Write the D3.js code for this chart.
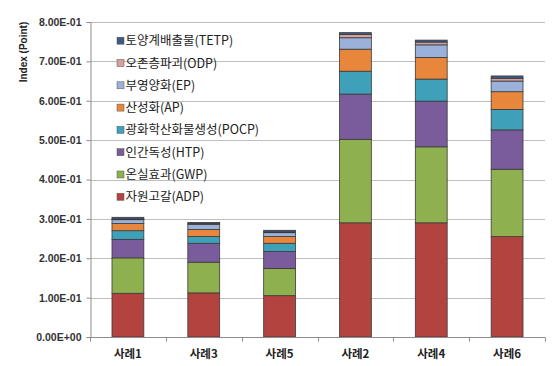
<!DOCTYPE html>
<html><head><meta charset="utf-8">
<script src="https://cdn.jsdelivr.net/npm/d3@7"></script>
<style>body{margin:0;background:#fff;}svg{display:block;font-family:"Noto Sans CJK KR","Noto Sans",sans-serif;}</style>
</head><body><svg id="c" width="556" height="366"></svg>
<script>
const categories = ["사례1","사례3","사례5","사례2","사례4","사례6"];
const seriesNames = ["자원고갈(ADP)","온실효과(GWP)","인간독성(HTP)","광화학산화물생성(POCP)","산성화(AP)","부영양화(EP)","오존층파괴(ODP)","토양계배출물(TETP)"];
const seriesKeys = ["ADP","GWP","HTP","POCP","AP","EP","ODP","TETP"];
const ADP  = [0.111,0.112,0.105,0.290,0.290,0.255];
const GWP  = [0.090,0.078,0.069,0.212,0.193,0.171];
const HTP  = [0.047,0.048,0.043,0.115,0.116,0.100];
const POCP = [0.022,0.017,0.021,0.058,0.056,0.052];
const AP   = [0.018,0.018,0.017,0.056,0.055,0.045];
const EP   = [0.010,0.013,0.010,0.029,0.032,0.027];
const ODP  = [0.002,0.002,0.002,0.008,0.007,0.007];
const TETP = [0.004,0.003,0.004,0.005,0.005,0.006];
const yTicks = [0,0.1,0.2,0.3,0.4,0.5,0.6,0.7,0.8];
const colors = ["#B3433F","#8FB04F","#7A5C9C","#3FA0B9","#E8873B","#9AB1D9","#D6A09F","#3E5B87"];

const vals = {ADP,GWP,HTP,POCP,AP,EP,ODP,TETP};
const table = categories.map((c,i)=>{const o={cat:c}; seriesKeys.forEach(k=>o[k]=vals[k][i]); return o;});
const stacked = d3.stack().keys(seriesKeys)(table);

const svg = d3.select("#c");
const x = d3.scaleBand().domain(categories).range([90,545]).paddingInner(0.58).paddingOuter(0.29);
const y = d3.scaleLinear().domain([0,0.8]).range([337,22]);

// gridlines
svg.append("g").selectAll("line").data(yTicks.slice(1)).join("line")
  .attr("x1",90).attr("x2",545).attr("y1",d=>Math.round(y(d))+0.5).attr("y2",d=>Math.round(y(d))+0.5)
  .attr("stroke","#BEBEBE").attr("stroke-width",1);

// y axis
const yAxis = d3.axisLeft(y).tickValues(yTicks).tickSize(4).tickPadding(5)
  .tickFormat(d=>{const s=d.toExponential(2).toUpperCase().replace("E-","E-0").replace("E+","E+0");return s;});
const gy = svg.append("g").attr("transform","translate(90.5,0)").call(yAxis);
gy.select(".domain").attr("stroke","#8C8C8C");
gy.selectAll(".tick line").attr("stroke","#8C8C8C");
gy.selectAll(".tick text").attr("font-size","10.5px").attr("font-weight","bold").attr("fill","#333")
  .attr("font-family","'Liberation Sans',Arial,sans-serif");

// legend
const legend = svg.append("g");
const order = seriesKeys.map((k,i)=>i).reverse();
order.forEach((si,row)=>{
  const yy = 40.7 + row*22.3;
  legend.append("rect").attr("x",117).attr("y",yy-3.5).attr("width",7).attr("height",7)
    .attr("fill",colors[si]).attr("stroke","#555").attr("stroke-width",0.5);
  legend.append("text").attr("x",125.5).attr("y",yy).attr("dy","0.36em")
    .attr("font-size","12.5px").attr("fill","#222").text(seriesNames[si]);
});

// bars
svg.append("g").selectAll("g").data(stacked).join("g")
  .attr("fill",(d,i)=>colors[i])
  .selectAll("rect").data(d=>d).join("rect")
  .attr("x",d=>x(d.data.cat)).attr("width",x.bandwidth())
  .attr("y",d=>y(d[1])).attr("height",d=>y(d[0])-y(d[1]))
  .attr("stroke","#3a3a3a").attr("stroke-width",0.8);

// x axis
const gx = svg.append("g").attr("transform","translate(0,337.5)");
gx.append("line").attr("x1",90).attr("x2",545).attr("stroke","#8C8C8C");
const bounds = d3.range(categories.length+1).map(i=>90 + i*(455/categories.length));
gx.selectAll(".tk").data(bounds).join("line").attr("class","tk")
  .attr("x1",d=>Math.round(d)+0.5).attr("x2",d=>Math.round(d)+0.5).attr("y1",0).attr("y2",4).attr("stroke","#8C8C8C");
gx.selectAll("text").data(categories).join("text")
  .attr("x",d=>x(d)+x.bandwidth()/2).attr("y",20).attr("text-anchor","middle")
  .attr("font-size","11.5px").attr("font-weight","bold").attr("fill","#222").text(d=>d);

// y title
svg.append("text").attr("transform","translate(27,52) rotate(-90)").attr("text-anchor","middle")
  .attr("font-size","10px").attr("font-weight","bold").attr("fill","#222")
  .attr("font-family","'Liberation Sans',Arial,sans-serif").text("Index (Point)");
</script></body></html>
